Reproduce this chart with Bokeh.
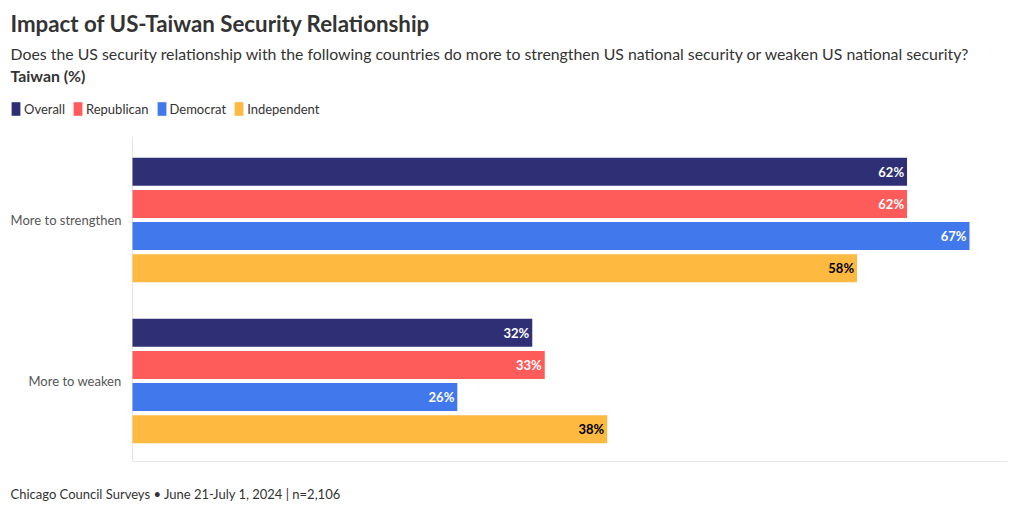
from bokeh.plotting import figure
from bokeh.models import ColumnDataSource, Label, Legend, LegendItem, Range1d
from bokeh.core.properties import value
from bokeh.embed import file_html
from bokeh.resources import INLINE

# ---- data ----
categories = ["More to strengthen", "More to weaken"]
series = ["Overall", "Republican", "Democrat", "Independent"]
overall = [62, 32]
republican = [62, 33]
democrat = [67, 26]
independent = [58, 38]
values_by_series = [overall, republican, democrat, independent]
axis_max = 70

# ---- styles ----
bar_colors = ["#2e2f74", "#fe5c5a", "#4179ec", "#fdb940"]
label_colors = ["white", "white", "white", "black"]
offsets = [0.3, 0.1, -0.1, -0.3]
BAR_H = 0.174
FONT = "Lato"
TEXT = "#333333"
W, H = 1020, 511

# layout geometry (pixels)
PLOT_LEFT = 132
PX_PER_UNIT_X = 837 / 67.0
CAT_SPACING_PX = 161.0
LOWEST_CAT_CENTER_PX = 380.5  # from top

x_start = -PLOT_LEFT / PX_PER_UNIT_X
x_end = (W - PLOT_LEFT) / PX_PER_UNIT_X
y_start = (LOWEST_CAT_CENTER_PX - H) / CAT_SPACING_PX
y_end = LOWEST_CAT_CENTER_PX / CAT_SPACING_PX

p = figure(width=W, height=H,
           x_range=Range1d(x_start, x_end), y_range=Range1d(y_start, y_end),
           output_backend="svg", toolbar_location=None,
           x_axis_location=None, y_axis_location=None,
           min_border=0)
p.outline_line_color = None
p.grid.grid_line_color = None

n = len(categories)
cat_pos = [n - 1 - i for i in range(n)]

# axis lines
p.segment(x0=[0, 0], y0=[-0.5, -0.5], x1=[0, axis_max], y1=[n - 0.5 + 0.012, -0.5],
          line_color="#e6e6e6", line_width=1)

# category labels
p.text(x=[0] * n, y=cat_pos, text=categories, x_offset=-11,
       text_align="right", text_baseline="middle",
       text_font=value(FONT), text_font_size="13px", text_color="#555555")

legend_items = []
for s, vals, bc, lc, off in zip(series, values_by_series, bar_colors,
                                 label_colors, offsets):
    src = ColumnDataSource(dict(y=[c + off for c in cat_pos], val=vals,
                                lab=[f"{v}%" for v in vals]))
    r = p.hbar(y="y", left=0, right="val", height=BAR_H, source=src,
               fill_color=bc, line_color=None)
    p.text(x="val", y="y", text="lab", source=src, x_offset=-3,
           text_align="right", text_baseline="middle",
           text_font=value(FONT), text_font_size="13px",
           text_font_style="bold", text_color=lc)
    legend_items.append(LegendItem(label=s, renderers=[r]))

legend = Legend(items=legend_items, location=(10, H - 117),
                orientation="horizontal", padding=0, margin=0, spacing=7,
                glyph_width=11, glyph_height=17, label_height=17,
                label_standoff=3, label_text_font=FONT,
                label_text_font_size="13px", label_text_color=TEXT,
                border_line_color=None, background_fill_alpha=0)
p.add_layout(legend)

def add_label(text, center_from_top, size, bold=False, color=TEXT):
    p.add_layout(Label(x=10, y=H - center_from_top, x_units="screen", y_units="screen",
                       text=text, text_baseline="middle",
                       text_font=FONT, text_font_size=size,
                       text_font_style="bold" if bold else "normal",
                       text_color=color))

add_label("Impact of US-Taiwan Security Relationship", 23, "22.3px", bold=True)
add_label("Does the US security relationship with the following countries do more to "
          "strengthen US national security or weaken US national security?", 53, "15.85px")
add_label("Taiwan (%)", 75, "15.85px", bold=True)
add_label("Chicago Council Surveys \u2022 June 21-July 1, 2024 | n=2,106", 493, "13px")

open("out.html", "w").write(file_html(p, INLINE))
